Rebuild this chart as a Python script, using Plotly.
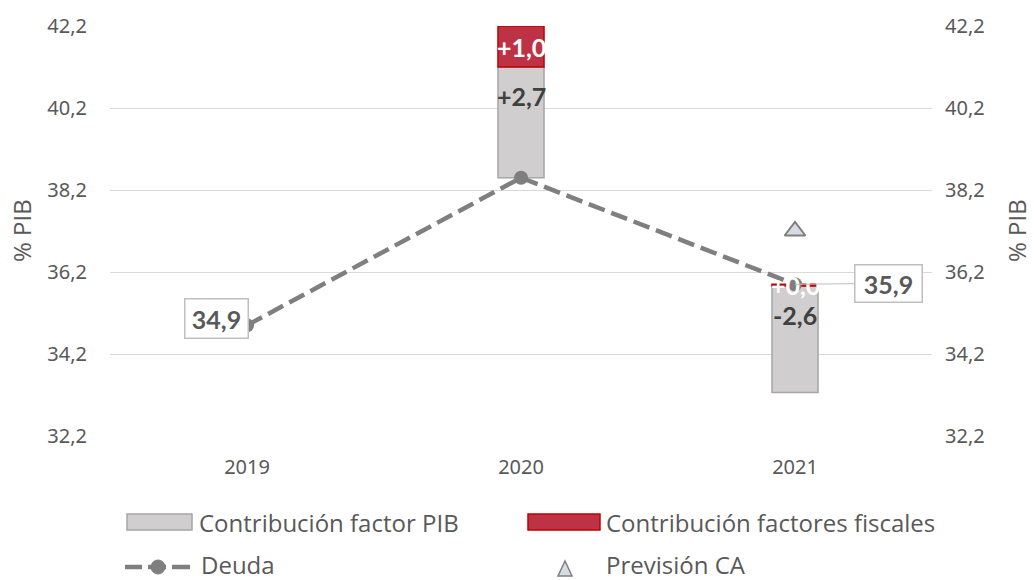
import plotly.graph_objects as go

# ---------------- data ----------------
years = ["2019", "2020", "2021"]
deuda = [34.9, 38.5, 35.9]
bar_base = [None, 38.5, 33.26]
pib_contrib = [None, 2.7, 2.6]
fiscal_contrib = [None, 1.0, 0.04]
pib_labels = ["", "+2,7", "-2,6"]
fiscal_labels = ["", "+1,0", "+0,0"]
prevision = [None, None, 37.2]
deuda_labels = ["34,9", "", "35,9"]
ytick_vals = [32.2, 34.2, 36.2, 38.2, 40.2, 42.2]
ytick_text = ["32,2", "34,2", "36,2", "38,2", "40,2", "42,2"]
legend_names = ["Contribución factor PIB", "Contribución factores fiscales", "Deuda", "Previsión CA"]

# ---------------- styles ----------------
GRAY_FILL = "#d0cece"
GRAY_LINE = "#a6a6a6"
RED_FILL = "#be3246"
RED_LINE = "#c00000"
LINE_COL = "#7f7f7f"
TXT = "#595959"
LBL = "#404040"
TICKFONT = "Noto Sans"
LEGFONT = "Open Sans"
LBLFONT = "Lato"

xpos = list(range(len(years)))
fiscal_base = [None if b is None else b + p for b, p in zip(bar_base, pib_contrib)]

fig = go.Figure()
fig.add_trace(go.Bar(x=xpos, y=pib_contrib, base=bar_base, width=0.168,
                     marker=dict(color=GRAY_FILL, line=dict(color=GRAY_LINE, width=1.5)),
                     name=legend_names[0], showlegend=False))
fig.add_trace(go.Bar(x=xpos, y=fiscal_contrib, base=fiscal_base, width=0.168,
                     marker=dict(color=RED_FILL, line=dict(color=RED_LINE, width=1.5)),
                     name=legend_names[1], showlegend=False))
fig.add_trace(go.Scatter(x=xpos, y=deuda, mode="lines+markers",
                         line=dict(color=LINE_COL, width=4.5, dash="17px,7px"),
                         marker=dict(size=14, color=LINE_COL),
                         name=legend_names[2], showlegend=False))
fig.add_trace(go.Scatter(x=xpos, y=prevision, mode="markers",
                         marker=dict(symbol="triangle-up", size=18, color="#d6dce5",
                                     line=dict(color=LINE_COL, width=2)),
                         name=legend_names[3], showlegend=False))
fig.add_trace(go.Scatter(x=xpos, y=deuda, yaxis="y2", mode="none", showlegend=False, hoverinfo="skip"))

annotations = []
for i in xpos:
    if pib_contrib[i] is not None:
        annotations.append(dict(x=i, y=bar_base[i] + pib_contrib[i], text=pib_labels[i],
                                showarrow=False, yanchor="middle", yshift=-29,
                                font=dict(family=LBLFONT, size=25, color=LBL, weight="bold")))
        annotations.append(dict(x=i, y=fiscal_base[i] + fiscal_contrib[i] / 2, text=fiscal_labels[i],
                                showarrow=False, yanchor="middle",
                                font=dict(family=LBLFONT, size=25, color="white", weight="bold")))

annotations.append(dict(x=xpos[0], y=deuda[0], text=deuda_labels[0], showarrow=False,
                        xanchor="right", yanchor="middle", xshift=2, yshift=7,
                        width=58, height=34, bgcolor="white", bordercolor="#bfbfbf",
                        borderwidth=1.5, borderpad=2,
                        font=dict(family=LBLFONT, size=25, color=TXT, weight="bold")))
annotations.append(dict(x=xpos[2], y=deuda[2], text=deuda_labels[2], showarrow=True,
                        arrowhead=0, arrowwidth=1, arrowcolor="#bfbfbf", ax=93, ay=-1,
                        width=62, height=32, bgcolor="white", bordercolor="#bfbfbf",
                        borderwidth=1.5, borderpad=2,
                        font=dict(family=LBLFONT, size=25, color=TXT, weight="bold")))

for xp in [-89 / 822, 1 + 84 / 822]:
    annotations.append(dict(x=xp, y=0.5, xref="paper", yref="paper", text="% PIB",
                            textangle=-90, showarrow=False, xanchor="center", yanchor="middle",
                            font=dict(family=LEGFONT, size=24, color=TXT)))

# ---------------- manual legend ----------------
L, T, W, H = 110, 26, 822, 410
def px(x):
    return (x - L) / W
def py(y):
    return (T + H - y) / H

shapes = []
shapes.append(dict(type="rect", xref="paper", yref="paper", x0=px(127), x1=px(192), y0=py(530), y1=py(514),
                   fillcolor=GRAY_FILL, line=dict(color=GRAY_LINE, width=1.5)))
shapes.append(dict(type="rect", xref="paper", yref="paper", x0=px(528), x1=px(600), y0=py(530), y1=py(514),
                   fillcolor=RED_FILL, line=dict(color=RED_LINE, width=1.5)))
for a, b in [(125, 142), (172, 190)]:
    shapes.append(dict(type="line", xref="paper", yref="paper", x0=px(a), x1=px(b), y0=py(567), y1=py(567),
                       line=dict(color=LINE_COL, width=4.5)))
shapes.append(dict(type="line", xref="paper", yref="paper", x0=px(142), x1=px(172), y0=py(567), y1=py(567),
                   line=dict(color=LINE_COL, width=4.5, dash="0px,6px,18px,6px")))
shapes.append(dict(type="circle", xref="paper", yref="paper", x0=px(151), x1=px(165), y0=py(574), y1=py(560),
                   fillcolor=LINE_COL, line=dict(color=LINE_COL, width=1)))
shapes.append(dict(type="path", xref="paper", yref="paper",
                   path=f"M {px(558)} {py(576)} L {px(572)} {py(576)} L {px(565)} {py(561)} Z",
                   fillcolor="#d6dce5", line=dict(color=LINE_COL, width=1.5)))

for name, x0, y0 in [(legend_names[0], 197, 522), (legend_names[1], 604, 522),
                     (legend_names[2], 199, 564), (legend_names[3], 604, 564)]:
    annotations.append(dict(x=px(x0), y=py(y0), xref="paper", yref="paper", text=name,
                            showarrow=False, xanchor="left", yanchor="middle",
                            font=dict(family=LEGFONT, size=24, color=TXT)))

yax = dict(range=[32.2, 42.2], tickvals=ytick_vals, ticktext=ytick_text, showgrid=True,
           gridcolor="#d9d9d9", gridwidth=1.3, zeroline=False, ticks="outside",
           tickcolor="rgba(0,0,0,0)",
           tickfont=dict(family=TICKFONT, size=20, color=TXT))

fig.update_layout(
    width=1034, height=580,
    margin=dict(l=L, r=1034 - L - W, t=T, b=580 - T - H),
    plot_bgcolor="white", paper_bgcolor="white",
    barmode="overlay", showlegend=False,
    xaxis=dict(range=[-0.5, 2.5], tickvals=xpos, ticktext=years, showgrid=False, zeroline=False,
               showline=False, ticks="outside", ticklen=13, tickcolor="rgba(0,0,0,0)",
               tickfont=dict(family=TICKFONT, size=20, color=TXT)),
    yaxis=dict(**yax, ticklen=18),
    yaxis2=dict(**yax, overlaying="y", side="right", ticklen=8),
    annotations=annotations, shapes=shapes,
)

fig.write_html("out.html", config={"displayModeBar": False},
               post_script="document.body.style.margin='0';document.body.style.overflow='hidden';")
